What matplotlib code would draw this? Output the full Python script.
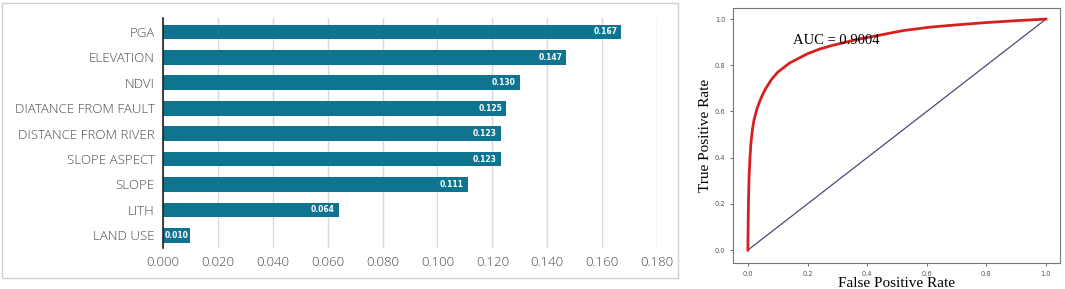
import numpy as np
import matplotlib.pyplot as plt
from matplotlib.patches import Rectangle

# feature importance
features = ["PGA", "ELEVATION", "NDVI", "DIATANCE FROM FAULT", "DISTANCE FROM RIVER",
            "SLOPE ASPECT", "SLOPE", "LITH", "LAND USE"]
importance = [0.167, 0.147, 0.130, 0.125, 0.123, 0.123, 0.111, 0.064, 0.010]
x_ticks = [0.000, 0.020, 0.040, 0.060, 0.080, 0.100, 0.120, 0.140, 0.160, 0.180]

# ROC curve
fpr = [0.0, 0.001, 0.002, 0.004, 0.007, 0.01, 0.015, 0.02, 0.03, 0.04, 0.05, 0.06,
       0.08, 0.10, 0.12, 0.14, 0.17, 0.20, 0.24, 0.28, 0.36, 0.44, 0.52, 0.61,
       0.70, 0.80, 0.90, 1.0]
tpr = [0.0, 0.12, 0.22, 0.32, 0.40, 0.46, 0.52, 0.56, 0.61, 0.645, 0.675, 0.70,
       0.74, 0.77, 0.79, 0.81, 0.83, 0.85, 0.87, 0.885, 0.91, 0.93, 0.95, 0.965,
       0.975, 0.985, 0.993, 1.0]
auc_text = "AUC = 0.9004"

bar_color = "#0e7490"

fig = plt.figure(figsize=(10.65, 2.89), dpi=100)
W, H = 1065, 289

# border of left panel
fig.add_artist(Rectangle((2 / W, 1 - 278 / H), 676 / W, 275 / H, transform=fig.transFigure,
                         fill=False, edgecolor="#d0d0d0", linewidth=1))

ax = fig.add_axes([163 / W, 1 - 248 / H, (657 - 163) / W, (248 - 18) / H])
y = np.arange(len(features))
bars = ax.barh(y, importance, height=0.58, color=bar_color, zorder=3)
ax.set_ylim(len(features) - 0.5, -0.55)
ax.set_xlim(0, 0.18)
ax.set_xticks(x_ticks)
ax.set_xticklabels([f"{t:.3f}" for t in x_ticks])
ax.set_yticks(y)
ax.set_yticklabels(features)
ax.tick_params(axis="both", length=0, colors="#4a4a4a", labelsize=9.5, pad=6)
for lab in ax.get_xticklabels() + ax.get_yticklabels():
    lab.set_family("Open Sans")
    lab.set_fontweight("light")
ax.xaxis.grid(True, color="#d9d9d9", linewidth=1, zorder=0)
for s in ["top", "right", "bottom"]:
    ax.spines[s].set_visible(False)
ax.spines["left"].set_color("#222222")
ax.spines["left"].set_linewidth(1.2)
ax.spines["left"].set_zorder(4)
for b, v in zip(bars, importance):
    yc = b.get_y() + b.get_height() / 2
    if v > 0.03:
        t = ax.text(v - 0.0015, yc, f"{v:.3f}", ha="right", va="center",
                    color="white", fontsize=5.5, fontweight="bold", zorder=5)
    else:
        t = ax.text(0.0007, yc, f"{v:.3f}", ha="left", va="center",
                    color="white", fontsize=5.5, fontweight="bold", zorder=5)
        t.set_clip_path(b)

# ROC panel
ax2 = fig.add_axes([733 / W, 1 - 263 / H, (1060 - 733) / W, (263 - 8) / H])
ax2.plot([0, 1], [0, 1], color="#4a4a7a", linewidth=0.9)
ax2.plot(fpr, tpr, color="#d62020", linewidth=2)
ax2.set_xlim(-0.05, 1.047)
ax2.set_ylim(-0.056, 1.048)
ax2.set_xticks([0, 0.2, 0.4, 0.6, 0.8, 1.0])
ax2.set_yticks([0, 0.2, 0.4, 0.6, 0.8, 1.0])
ax2.tick_params(labelsize=4.8, colors="#555555", length=2, width=0.6)
for s in ax2.spines.values():
    s.set_color("#777777")
ax2.set_xlabel("False Positive Rate", family="Liberation Serif", fontsize=11, labelpad=0)
ax2.set_ylabel("True Positive Rate", family="Liberation Serif", fontsize=11, labelpad=2)
ax2.text(0.15, 0.89, auc_text, family="Liberation Serif", fontsize=10.5)

fig.savefig("out.png", dpi=100)
